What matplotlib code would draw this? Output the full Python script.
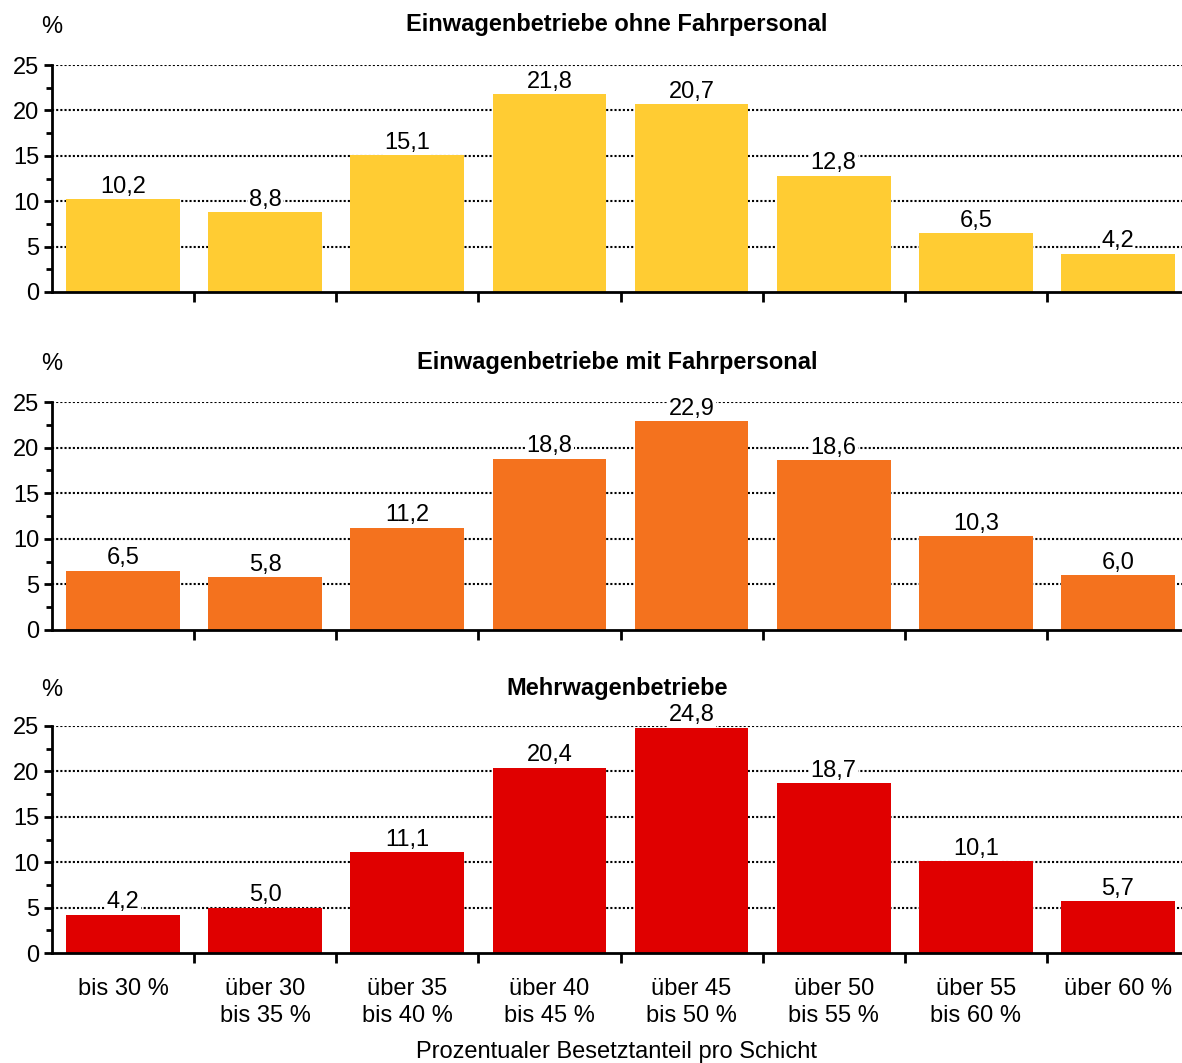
import numpy as np
import matplotlib
matplotlib.use('Agg')
import matplotlib.pyplot as plt
from matplotlib.ticker import MultipleLocator
from matplotlib import rcParams

rcParams['font.family'] = ['Liberation Sans', 'DejaVu Sans']

categories = ['bis 30 %', 'über 30\nbis 35 %', 'über 35\nbis 40 %', 'über 40\nbis 45 %',
              'über 45\nbis 50 %', 'über 50\nbis 55 %', 'über 55\nbis 60 %', 'über 60 %']
titles = ['Einwagenbetriebe ohne Fahrpersonal', 'Einwagenbetriebe mit Fahrpersonal', 'Mehrwagenbetriebe']
ohne_fahrpersonal = [10.2, 8.8, 15.1, 21.8, 20.7, 12.8, 6.5, 4.2]
mit_fahrpersonal = [6.5, 5.8, 11.2, 18.8, 22.9, 18.6, 10.3, 6.0]
mehrwagen = [4.2, 5.0, 11.1, 20.4, 24.8, 18.7, 10.1, 5.7]
series = [ohne_fahrpersonal, mit_fahrpersonal, mehrwagen]
colors = ['#FFCC33', '#F4721E', '#E00000']
xlabel = 'Prozentualer Besetztanteil pro Schicht'

W, H = 1182, 1063
fig = plt.figure(figsize=(W / 100, H / 100), dpi=100)

# pixel boxes (top, bottom) for each panel; axes run a little past the right edge
boxes = [(65, 292), (402, 630), (726, 953)]
title_y = [25, 362, 688]
left, right = 52, 1189
fs = 17

x = np.arange(len(categories))
for i, (vals, col, title) in enumerate(zip(series, colors, titles)):
    top, bot = boxes[i]
    ax = fig.add_axes([left / W, 1 - bot / H, (right - left) / W, (bot - top) / H])
    ax.bar(x, vals, width=0.8, color=col, zorder=2)
    ax.set_xlim(-0.5, len(categories) - 0.5)
    ax.set_ylim(0, 25)
    ax.yaxis.set_major_locator(MultipleLocator(5))
    ax.yaxis.set_minor_locator(MultipleLocator(2.5))
    for y in [5, 10, 15, 20, 25]:
        ax.axhline(y, color='k', linestyle=(0, (1.0, 1.0)), linewidth=1.5, zorder=1)
    for s in ['top', 'right']:
        ax.spines[s].set_visible(False)
    ax.spines['left'].set_linewidth(2)
    ax.spines['bottom'].set_linewidth(2)
    ax.spines['bottom'].set_zorder(3)
    ax.tick_params(axis='y', which='major', labelsize=fs, length=6, width=2, pad=3)
    ax.tick_params(axis='y', which='minor', length=4, width=2)
    ax.set_xticks(x[:-1] + 0.5)
    ax.tick_params(axis='x', which='major', length=7, width=2, labelbottom=False)
    if i == 2:
        ax.set_xticks(x, minor=True)
        ax.set_xticklabels(categories, minor=True)
        ax.tick_params(axis='x', which='minor', length=0, labelsize=fs, pad=18)
        for lab in ax.get_xticklabels(minor=True):
            lab.set_verticalalignment('top')
            lab.set_linespacing(1.3)
    for xi, v in zip(x, vals):
        ax.annotate(f'{v:.1f}'.replace('.', ','), (xi, v), xytext=(0, 1),
                    textcoords='offset points', ha='center', va='bottom', fontsize=fs,
                    bbox=dict(boxstyle='square,pad=0.05', fc='white', ec='none'), zorder=4)
    fig.text((52 + 1182) / 2 / W, 1 - title_y[i] / H, title, ha='center', va='center',
             fontsize=17, fontweight='bold')
    fig.text(52 / W, 1 - (title_y[i] + 2) / H, '%', ha='center', va='center', fontsize=fs)

fig.text((52 + 1182) / 2 / W, 1 - 1052 / H, xlabel, ha='center', va='center', fontsize=fs)

plt.savefig('out.png', dpi=100)
